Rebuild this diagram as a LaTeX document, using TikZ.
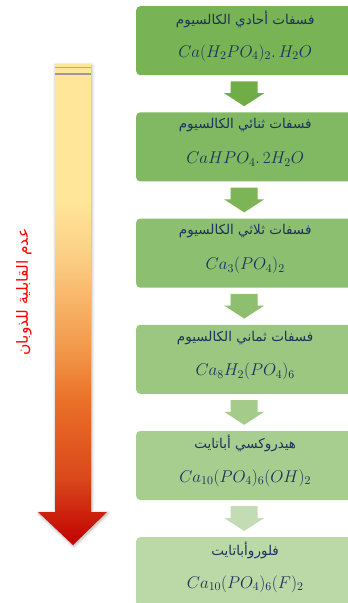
\RequirePackage{fix-cm}
\documentclass[tikz,border=0pt]{standalone}
\usepackage{fontspec}
\newfontfamily\arabicfont[Script=Arabic]{DejaVu Sans}
\TeXXeTstate=1
\usetikzlibrary{calc,shadows.blur}
\definecolor{bxA}{RGB}{120,180,86}
\definecolor{bxB}{RGB}{128,185,97}
\definecolor{bxC}{RGB}{140,192,112}
\definecolor{bxD}{RGB}{155,199,128}
\definecolor{bxE}{RGB}{168,206,143}
\definecolor{bxF}{RGB}{187,217,167}
\definecolor{arA}{RGB}{113,173,71}
\definecolor{arB}{RGB}{124,180,86}
\definecolor{arC}{RGB}{142,191,111}
\definecolor{arD}{RGB}{165,203,138}
\definecolor{arE}{RGB}{196,220,180}
\definecolor{navy}{RGB}{28,50,92}
\definecolor{yl}{RGB}{255,230,153}
\definecolor{sa}{RGB}{251,207,133}
\definecolor{sb}{RGB}{247,178,102}
\definecolor{sc}{RGB}{241,150,72}
\definecolor{sd}{RGB}{234,112,40}
\definecolor{se}{RGB}{218,72,28}
\definecolor{dr}{RGB}{192,0,0}
\pgfdeclareverticalshading{solgrad}{100bp}{color(0bp)=(dr); color(25bp)=(dr); color(32bp)=(se); color(40bp)=(sd); color(45bp)=(sc); color(50bp)=(sb); color(55bp)=(sa); color(61bp)=(yl); color(100bp)=(yl)}
\newcommand\flowarrow[3]{%
  \fill[#3] let \p1=(#1.south), \p2=(#2.north) in
   (\x1-13.5pt,\y1-6pt) -- (\x1+13.5pt,\y1-6pt) -- (\x1+13.5pt,\y2+19pt)
   -- (\x1+20pt,\y2+19pt) -- (\x1,\y2+6pt) -- (\x1-20pt,\y2+19pt)
   -- (\x1-13.5pt,\y2+19pt) -- cycle;}
\tikzset{
  box/.style={anchor=north west, minimum width=216pt, minimum height=69pt,
    rounded corners=4pt, inner sep=0pt},
  artext/.style={text=navy, font=\arabicfont\fontsize{13.5}{16}\selectfont, inner sep=0pt},
  formula/.style={text=navy, font=\fontsize{17}{20}\selectfont, inner sep=0pt},
}
\begin{document}
\begin{tikzpicture}[x=1pt,y=-1pt]
\useasboundingbox (0,0) rectangle (348,603);
\clip (0,0) rectangle (348,603);
% big arrow
\path[shading=solgrad, blur shadow={shadow xshift=0.8pt, shadow yshift=-1.2pt, shadow blur steps=6, shadow blur radius=3pt, shadow opacity=35}]
  (55,64) -- (91,64) -- (91,512) -- (107,512) -- (73,545) -- (38,512) -- (55,512) -- cycle;
\draw[gray!65, line width=1pt] (55,67.5) -- (91,67.5);
\draw[gray!80, line width=1.5pt] (55,74) -- (91,74);
\node[rotate=90, text=red, font=\arabicfont\fontsize{15.5}{18}\selectfont, inner sep=0pt] (lbl) at (24,292) {\beginR عدم القابلية للذوبان\endR};
% boxes
\foreach \i/\c in {1/bxA,2/bxB,3/bxC,4/bxD,5/bxE,6/bxF}{
  \node[box, fill=\c] (b\i) at (136,{6+106.2*(\i-1)}) {};
}
\node[artext] (a1) at ($(b1.north)+(1,13)$) {\beginR فسفات أحادي الكالسيوم\endR};
\node[formula] (f1) at ($(b1.north)+(1,47)$) {$Ca(H_2PO_4)_2.\,H_2O$};
\node[artext] (a2) at ($(b2.north)+(1,13)$) {\beginR فسفات ثنائي الكالسيوم\endR};
\node[formula] (f2) at ($(b2.north)+(1,47)$) {$CaHPO_4.\,2H_2O$};
\node[artext] (a3) at ($(b3.north)+(1,13)$) {\beginR فسفات ثلاثي الكالسيوم\endR};
\node[formula] (f3) at ($(b3.north)+(1,47)$) {$Ca_3(PO_4)_2$};
\node[artext] (a4) at ($(b4.north)+(1,13)$) {\beginR فسفات ثماني الكالسيوم\endR};
\node[formula] (f4) at ($(b4.north)+(1,47)$) {$Ca_8H_2(PO_4)_6$};
\node[artext] (a5) at ($(b5.north)+(1,13)$) {\beginR هيدروكسي أباتايت\endR};
\node[formula] (f5) at ($(b5.north)+(1,47)$) {$Ca_{10}(PO_4)_6(OH)_2$};
\node[artext] (a6) at ($(b6.north)+(1,13)$) {\beginR فلوروأباتايت\endR};
\node[formula] (f6) at ($(b6.north)+(1,47)$) {$Ca_{10}(PO_4)_6(F)_2$};
% arrows
\flowarrow{b1}{b2}{arA}
\flowarrow{b2}{b3}{arB}
\flowarrow{b3}{b4}{arC}
\flowarrow{b4}{b5}{arD}
\flowarrow{b5}{b6}{arE}
\end{tikzpicture}
\end{document}
